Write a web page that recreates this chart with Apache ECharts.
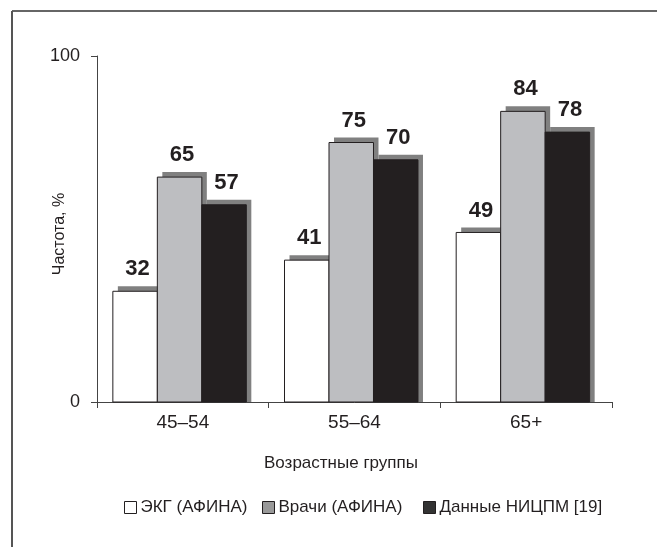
<!DOCTYPE html>
<html>
<head>
<meta charset="utf-8">
<script src="https://cdn.jsdelivr.net/npm/echarts@6/dist/echarts.min.js"></script>
<style>html,body{margin:0;padding:0;background:#fff;}#c{width:657px;height:547px;}</style>
</head>
<body>
<div id="c"></div>
<script>
var categories = ['45–54', '55–64', '65+'];
var seriesNames = ['ЭКГ (АФИНА)', 'Врачи (АФИНА)', 'Данные НИЦПМ [19]'];
var ekg = [32, 41, 49];
var vrachi = [65, 75, 84];
var nicpm = [57, 70, 78];
var yTicks = [0, 100];

var FONT = "'Liberation Sans', Arial, sans-serif";
var INK = '#231f20';
var SHADOW = '#808080';
var fills = ['#ffffff', '#bdbec1', '#231f20'];
var legendFills = ['#ffffff', '#999999', '#333333'];
var legendLefts = [124, 262, 423];
var values = [ekg, vrachi, nicpm];

var chart = echarts.init(document.getElementById('c'), null, {renderer: 'canvas'});

function makeRender(i) {
  return function (params, api) {
    var idx = api.value(0), val = api.value(1);
    var base = api.coord([idx, 0]);
    var top = api.coord([idx, val]);
    var cw = api.size([1, 0])[0];
    var bw = cw * 44.5 / 171.7;
    var left = base[0] - cw * 70 / 171.7 + i * bw;
    var h = base[1] - top[1];
    return {
      type: 'group',
      children: [
        {type: 'rect', shape: {x: left + 5, y: top[1] - 5, width: bw, height: h + 5}, style: {fill: SHADOW}},
        {type: 'rect', shape: {x: left, y: top[1], width: bw, height: h}, style: {fill: fills[i], stroke: INK, lineWidth: 1}},
        {type: 'text', x: left + bw / 2 + 2.5, y: top[1] - 11,
          style: {text: String(val), fontFamily: FONT, fontWeight: 'bold', fontSize: 22, fill: INK, align: 'center', verticalAlign: 'bottom'}}
      ]
    };
  };
}

var series = values.map(function (vals, i) {
  return {
    name: seriesNames[i],
    type: 'custom',
    data: vals.map(function (v, k) { return [k, v]; }),
    encode: {x: 0, y: 1},
    itemStyle: {color: legendFills[i]},
    renderItem: makeRender(i),
    animation: false,
    silent: true
  };
});

chart.setOption({
  animation: false,
  grid: {left: 97, right: 45, top: 56, bottom: 145, containLabel: false},
  xAxis: {
    type: 'category',
    data: categories,
    axisLine: {lineStyle: {color: '#444', width: 1}},
    axisTick: {show: true, length: 6, alignWithLabel: false, lineStyle: {color: '#444'}},
    axisLabel: {fontFamily: FONT, fontSize: 19, color: INK, margin: 11}
  },
  yAxis: {
    type: 'value',
    min: yTicks[0],
    max: yTicks[1],
    interval: 100,
    splitLine: {show: false},
    axisLine: {show: true, lineStyle: {color: '#444', width: 1}},
    axisTick: {show: true, length: 6, lineStyle: {color: '#444'}},
    axisLabel: {fontFamily: FONT, fontSize: 18, color: INK, margin: 17}
  },
  legend: seriesNames.map(function (n, i) {
    return {
      left: legendLefts[i],
      top: 499,
      padding: 0,
      itemWidth: 12,
      itemHeight: 12,
      icon: 'rect',
      selectedMode: false,
      textStyle: {fontFamily: FONT, fontSize: 17, color: INK, padding: [0, 0, 0, -1]},
      data: [{
        name: n,
        itemStyle: {color: legendFills[i], borderColor: INK, borderWidth: 1}
      }]
    };
  }),
  graphic: [
    {type: 'line', shape: {x1: 12, y1: 11, x2: 657, y2: 11}, style: {stroke: '#333', lineWidth: 1.5}, silent: true},
    {type: 'line', shape: {x1: 12, y1: 11, x2: 12, y2: 547}, style: {stroke: '#555', lineWidth: 2}, silent: true},
    {type: 'text', x: 341, y: 463, style: {text: 'Возрастные группы', fontFamily: FONT, fontSize: 17, fill: INK, align: 'center', verticalAlign: 'middle'}, silent: true},
    {type: 'text', x: 60, y: 234, rotation: Math.PI / 2, style: {text: 'Частота, %', fontFamily: FONT, fontSize: 16, fill: INK, align: 'center', verticalAlign: 'middle'}, silent: true}
  ],
  series: series
});
</script>
</body>
</html>
